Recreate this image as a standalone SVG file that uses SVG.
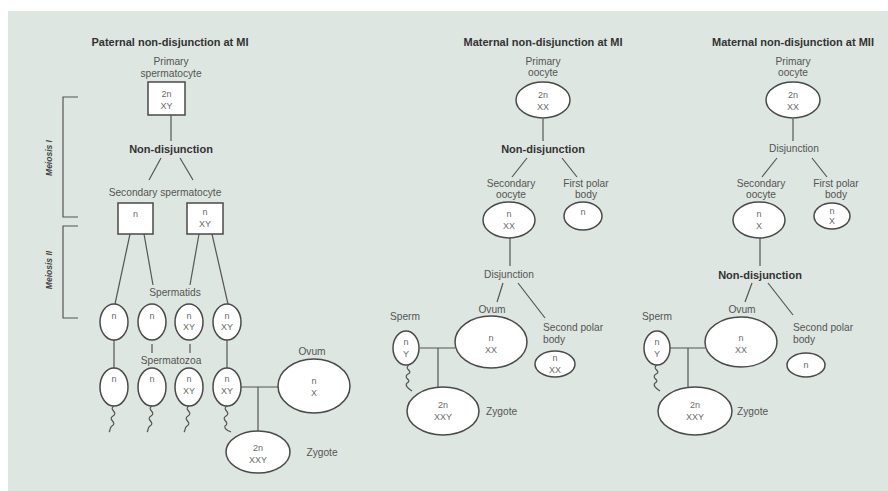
<svg xmlns="http://www.w3.org/2000/svg" width="888" height="491" viewBox="0 0 888 491">
<style>
.bg{fill:#dde6e0}
.ln{stroke:#555;stroke-width:1.2;fill:none}
.tail{stroke:#555;stroke-width:1.2;fill:none;stroke-linejoin:round}
.cell{fill:#fff;stroke:#4a4a4a;stroke-width:1.5}
.t{font-family:"Liberation Sans",Arial,sans-serif;font-size:10.2px;fill:#555;text-anchor:middle}
.tl{font-family:"Liberation Sans",Arial,sans-serif;font-size:10.2px;fill:#555}
.b{font-family:"Liberation Sans",Arial,sans-serif;font-size:11px;font-weight:bold;fill:#333;text-anchor:middle}
.n{font-family:"Liberation Sans",Arial,sans-serif;font-size:9px;fill:#6a6a6a;text-anchor:middle}
.m{font-family:"Liberation Sans",Arial,sans-serif;font-size:8.5px;font-weight:bold;font-style:italic;fill:#444;text-anchor:middle}
</style>
<rect class="bg" x="8" y="11" width="880" height="480"/>

<!-- Titles -->
<text class="b" x="170" y="46">Paternal non-disjunction at MI</text>
<text class="b" x="543" y="46">Maternal non-disjunction at MI</text>
<text class="b" x="793" y="46">Maternal non-disjunction at MII</text>

<!-- Meiosis brackets -->
<g id="meiosis-brackets">
<path class="ln" d="M78,97 H63 V217 H78"/>
<path class="ln" d="M78,226 H63 V318 H78"/>
<text class="m" transform="translate(52,158) rotate(-90)">Meiosis I</text>
<text class="m" transform="translate(52,270) rotate(-90)">Meiosis II</text>
</g>

<!-- Connectors -->
<g id="connectors">
<!-- left panel -->
<line class="ln" x1="171" y1="115" x2="171" y2="141"/>
<line class="ln" x1="161" y1="158" x2="149" y2="180"/>
<line class="ln" x1="180" y1="158" x2="193" y2="180"/>
<line class="ln" x1="130" y1="234" x2="115" y2="304"/>
<line class="ln" x1="144" y1="234" x2="153" y2="285"/>
<line class="ln" x1="199" y1="234" x2="190" y2="285"/>
<line class="ln" x1="212" y1="234" x2="228" y2="304"/>
<line class="ln" x1="114" y1="340" x2="114" y2="368"/>
<line class="ln" x1="152" y1="344" x2="152" y2="353"/>
<line class="ln" x1="190" y1="344" x2="190" y2="353"/>
<line class="ln" x1="227" y1="340" x2="227" y2="368"/>
<line class="ln" x1="241" y1="387" x2="278" y2="387"/>
<line class="ln" x1="258" y1="387" x2="258" y2="431"/>
<!-- middle panel -->
<line class="ln" x1="543" y1="119" x2="543" y2="141"/>
<line class="ln" x1="527" y1="158" x2="512" y2="177"/>
<line class="ln" x1="562" y1="158" x2="577" y2="177"/>
<line class="ln" x1="510" y1="238" x2="510" y2="266"/>
<line class="ln" x1="503" y1="283" x2="497" y2="302"/>
<line class="ln" x1="518" y1="283" x2="545" y2="318"/>
<line class="ln" x1="420" y1="348" x2="455" y2="348"/>
<line class="ln" x1="438" y1="348" x2="438" y2="387"/>
<!-- right panel -->
<line class="ln" x1="793" y1="119" x2="793" y2="141"/>
<line class="ln" x1="777" y1="158" x2="762" y2="177"/>
<line class="ln" x1="812" y1="158" x2="827" y2="177"/>
<line class="ln" x1="760" y1="238" x2="760" y2="266"/>
<line class="ln" x1="752" y1="283" x2="745" y2="302"/>
<line class="ln" x1="768" y1="283" x2="793" y2="315"/>
<line class="ln" x1="670" y1="348" x2="705" y2="348"/>
<line class="ln" x1="688" y1="348" x2="688" y2="387"/>
</g>

<!-- ===== Left panel nodes ===== -->
<g id="primary-spermatocyte">
<text class="t" x="171" y="65">Primary</text>
<text class="t" x="171" y="77">spermatocyte</text>
<rect class="cell" x="148" y="82" width="37" height="33"/>
<text class="n" x="166.5" y="97">2n</text>
<text class="n" x="166.5" y="109">XY</text>
</g>
<text class="b" x="171" y="153">Non-disjunction</text>
<text class="t" x="165" y="196">Secondary spermatocyte</text>
<g id="sec-spermatocyte-1">
<rect class="cell" x="118" y="203" width="35" height="31"/>
<text class="n" x="135.5" y="217">n</text>
</g>
<g id="sec-spermatocyte-2">
<rect class="cell" x="187" y="203" width="36" height="31"/>
<text class="n" x="205" y="215">n</text>
<text class="n" x="205" y="227">XY</text>
</g>
<text class="t" x="175" y="296">Spermatids</text>
<g id="spermatid-1">
<ellipse class="cell" cx="114" cy="322" rx="14" ry="18"/>
<text class="n" x="114" y="319">n</text>
</g>
<g id="spermatid-2">
<ellipse class="cell" cx="152" cy="322" rx="14" ry="18"/>
<text class="n" x="152" y="319">n</text>
</g>
<g id="spermatid-3">
<ellipse class="cell" cx="189" cy="322" rx="14" ry="18"/>
<text class="n" x="189" y="319">n</text>
<text class="n" x="189" y="330">XY</text>
</g>
<g id="spermatid-4">
<ellipse class="cell" cx="227" cy="322" rx="14" ry="18"/>
<text class="n" x="227" y="319">n</text>
<text class="n" x="227" y="330">XY</text>
</g>
<text class="t" x="171" y="364">Spermatozoa</text>
<g id="spermatozoon-1">
<ellipse class="cell" cx="114" cy="387" rx="14" ry="19"/>
<text class="n" x="114" y="382">n</text>
<path class="tail" d="M114,406 c-6,4 5,6 -1,10 c-6,4 5,6 -1,10 c-3,2 -1,4 -3,6"/>
</g>
<g id="spermatozoon-2">
<ellipse class="cell" cx="152" cy="387" rx="14" ry="19"/>
<text class="n" x="152" y="382">n</text>
<path class="tail" d="M152,406 c-6,4 5,6 -1,10 c-6,4 5,6 -1,10 c-3,2 -1,4 -3,6"/>
</g>
<g id="spermatozoon-3">
<ellipse class="cell" cx="189" cy="387" rx="14" ry="19"/>
<text class="n" x="189" y="382">n</text>
<text class="n" x="189" y="394">XY</text>
<path class="tail" d="M189,406 c-6,4 5,6 -1,10 c-6,4 5,6 -1,10 c-3,2 -1,4 -3,6"/>
</g>
<g id="spermatozoon-4">
<ellipse class="cell" cx="227" cy="387" rx="14" ry="19"/>
<text class="n" x="227" y="382">n</text>
<text class="n" x="227" y="394">XY</text>
<path class="tail" d="M227,406 c-6,4 5,6 -1,10 c-6,4 5,6 -1,10 c-1,2 1,4 6,6"/>
</g>
<g id="ovum-left">
<text class="t" x="312" y="355">Ovum</text>
<ellipse class="cell" cx="314" cy="386" rx="36" ry="27"/>
<text class="n" x="314" y="384">n</text>
<text class="n" x="314" y="396">X</text>
</g>
<g id="zygote-left">
<ellipse class="cell" cx="258" cy="452" rx="32" ry="21"/>
<text class="n" x="258" y="451">2n</text>
<text class="n" x="258" y="463">XXY</text>
<text class="t" x="322" y="456">Zygote</text>
</g>

<!-- ===== Middle panel nodes ===== -->
<g id="primary-oocyte-mid">
<text class="t" x="543" y="65">Primary</text>
<text class="t" x="543" y="76">oocyte</text>
<ellipse class="cell" cx="543" cy="100" rx="27" ry="18"/>
<text class="n" x="543" y="98">2n</text>
<text class="n" x="543" y="110">XX</text>
</g>
<text class="b" x="543" y="153">Non-disjunction</text>
<g id="secondary-oocyte-mid">
<text class="t" x="511" y="187">Secondary</text>
<text class="t" x="511" y="198">oocyte</text>
<ellipse class="cell" cx="509" cy="220" rx="26" ry="18"/>
<text class="n" x="509" y="217">n</text>
<text class="n" x="509" y="229">XX</text>
</g>
<g id="first-polar-mid">
<text class="t" x="586" y="187">First polar</text>
<text class="t" x="586" y="198">body</text>
<ellipse class="cell" cx="583" cy="216" rx="19" ry="14"/>
<text class="n" x="583" y="215">n</text>
</g>
<text class="t" x="509" y="278">Disjunction</text>
<g id="ovum-mid">
<text class="t" x="492" y="313">Ovum</text>
<ellipse class="cell" cx="491" cy="342" rx="36" ry="26"/>
<text class="n" x="491" y="341">n</text>
<text class="n" x="491" y="353">XX</text>
</g>
<g id="sperm-mid">
<text class="t" x="405" y="320">Sperm</text>
<ellipse class="cell" cx="406" cy="348" rx="13" ry="17"/>
<text class="n" x="406" y="345">n</text>
<text class="n" x="406" y="357">Y</text>
<path class="tail" d="M409,365 c-6,4 5,6 -1,9 c-6,4 5,6 -1,9 c-2,2 0,5 5,8"/>
</g>
<g id="second-polar-mid">
<text class="tl" x="543" y="331">Second polar</text>
<text class="tl" x="543" y="343">body</text>
<ellipse class="cell" cx="555" cy="364" rx="20" ry="13"/>
<text class="n" x="555" y="361">n</text>
<text class="n" x="555" y="373">XX</text>
</g>
<g id="zygote-mid">
<ellipse class="cell" cx="443" cy="411" rx="36" ry="24"/>
<text class="n" x="443" y="408">2n</text>
<text class="n" x="443" y="420">XXY</text>
<text class="tl" x="486" y="415">Zygote</text>
</g>

<!-- ===== Right panel nodes ===== -->
<g id="primary-oocyte-right">
<text class="t" x="793" y="65">Primary</text>
<text class="t" x="793" y="76">oocyte</text>
<ellipse class="cell" cx="793" cy="100" rx="27" ry="18"/>
<text class="n" x="793" y="98">2n</text>
<text class="n" x="793" y="110">XX</text>
</g>
<text class="t" x="794" y="152">Disjunction</text>
<g id="secondary-oocyte-right">
<text class="t" x="761" y="187">Secondary</text>
<text class="t" x="761" y="198">oocyte</text>
<ellipse class="cell" cx="759" cy="220" rx="26" ry="18"/>
<text class="n" x="759" y="217">n</text>
<text class="n" x="759" y="229">X</text>
</g>
<g id="first-polar-right">
<text class="t" x="836" y="187">First polar</text>
<text class="t" x="836" y="198">body</text>
<ellipse class="cell" cx="832" cy="216" rx="18" ry="13"/>
<text class="n" x="832" y="214">n</text>
<text class="n" x="832" y="224">X</text>
</g>
<text class="b" x="760" y="279">Non-disjunction</text>
<g id="ovum-right">
<text class="t" x="742" y="313">Ovum</text>
<ellipse class="cell" cx="741" cy="342" rx="36" ry="25"/>
<text class="n" x="741" y="341">n</text>
<text class="n" x="741" y="353">XX</text>
</g>
<g id="sperm-right">
<text class="t" x="657" y="320">Sperm</text>
<ellipse class="cell" cx="657" cy="348" rx="13" ry="17"/>
<text class="n" x="657" y="345">n</text>
<text class="n" x="657" y="357">Y</text>
<path class="tail" d="M657,365 c-6,4 5,6 -1,9 c-6,4 5,6 -1,9 c-2,2 0,5 5,8"/>
</g>
<g id="second-polar-right">
<text class="tl" x="793" y="331">Second polar</text>
<text class="tl" x="793" y="343">body</text>
<ellipse class="cell" cx="806" cy="365" rx="19" ry="12"/>
<text class="n" x="806" y="368">n</text>
</g>
<g id="zygote-right">
<ellipse class="cell" cx="695" cy="411" rx="37" ry="24"/>
<text class="n" x="695" y="408">2n</text>
<text class="n" x="695" y="420">XXY</text>
<text class="tl" x="737" y="415">Zygote</text>
</g>
</svg>
